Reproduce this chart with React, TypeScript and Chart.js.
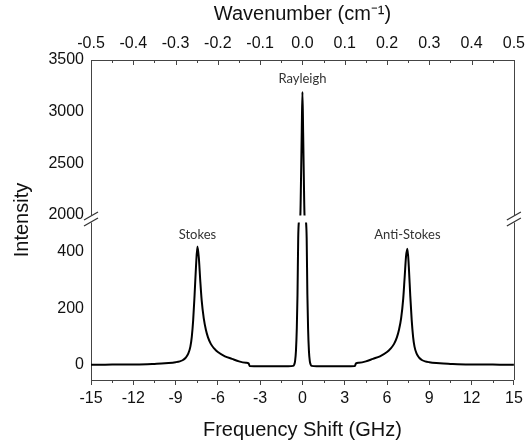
import React, { useEffect, useRef } from 'react';
import { Chart, registerables, LinearScale } from 'chart.js';

Chart.register(...registerables);

// ---- data ----
const FREQ_GHZ = [
  -15.0, -14.0, -13.0, -12.0, -11.0, -10.5, -10.0, -9.5, -9.0, -8.7, -8.5, -8.3, -8.1, -7.95, -7.85,
  -7.75, -7.65, -7.55, -7.45, -7.35, -7.25, -7.15, -7.0, -6.85, -6.7, -6.5, -6.25, -6.0, -5.5, -5.0,
  -4.5, -4.0, -3.82, -3.75, -3.0, -2.0, -1.0, -0.65, -0.58, -0.52, -0.46, -0.4, -0.35, -0.3, -0.25,
  -0.2, -0.15, -0.1, -0.05, 0.0,
  0.05, 0.1, 0.15, 0.2, 0.25, 0.3, 0.35, 0.4, 0.46, 0.52, 0.58, 0.65, 1.0, 2.0, 3.0, 3.72, 3.8,
  4.0, 4.5, 5.0, 5.5, 6.0, 6.25, 6.5, 6.7, 6.85, 7.0, 7.15, 7.25, 7.35, 7.45, 7.55, 7.65, 7.75,
  7.85, 7.95, 8.1, 8.3, 8.5, 8.7, 9.0, 9.5, 10.0, 10.5, 11.0, 12.0, 13.0, 14.0, 15.0,
];
const INTENSITY = [
  1, 1, 2, 2, 3, 4, 5, 7, 10, 13, 17, 25, 40, 65, 100,
  160, 250, 350, 420, 380, 300, 230, 165, 125, 98, 75, 58, 46, 31, 22,
  13, 8, 6, -3, -4, -4, -4, -3, 2, 15, 50, 130, 250, 450, 800,
  1300, 1850, 2350, 2800, 3190,
  2800, 2350, 1850, 1300, 800, 450, 250, 130, 50, 15, 2, -3, -4, -4, -4, -3, 6,
  8, 13, 22, 31, 46, 58, 75, 98, 125, 165, 235, 310, 385, 412, 345, 245, 160,
  100, 65, 40, 25, 17, 13, 10, 7, 5, 4, 3, 2, 2, 1, 1,
];

const Y_TICKS = [0, 200, 400, 2000, 2500, 3000, 3500];
const Y_LOWER_MIN = -53;
const Y_LOWER_MAX = 503;
const Y_UPPER_MIN = 2000;
const Y_UPPER_MAX = 3500;

const X_MIN = -15;
const X_MAX = 15;
const X_STEP = 3;
const WN_MIN = -0.5;
const WN_MAX = 0.5;
const WN_STEP = 0.1;

const PEAK_LABELS = ['Stokes', 'Rayleigh', 'Anti-Stokes'];
const PEAK_X = [-7.45, 0, 7.45];
const PEAK_LABEL_Y = [460, 3320, 460];

// ---- styling ----
const AXIS_COLOR = '#444';
const TEXT_COLOR = '#111';
const LOWER_FRAC = 157 / 320;
const GAP_FRAC = 8 / 320;

class BrokenLinearScale extends LinearScale {
  static id = 'brokenLinear';
  static defaults = LinearScale.defaults;

  buildTicks() {
    return Y_TICKS.map((v) => ({ value: v }));
  }

  getPixelForValue(value: number) {
    if (value === null || value === undefined || isNaN(value)) return NaN;
    const top = this.top;
    const bottom = this.bottom;
    const h = bottom - top;
    const lowerH = h * LOWER_FRAC;
    const gapH = h * GAP_FRAC;
    const upperH = h - lowerH - gapH;
    if (value <= Y_LOWER_MAX) {
      return bottom - ((value - Y_LOWER_MIN) / (Y_LOWER_MAX - Y_LOWER_MIN)) * lowerH;
    }
    if (value >= Y_UPPER_MIN) {
      return top + ((Y_UPPER_MAX - value) / (Y_UPPER_MAX - Y_UPPER_MIN)) * upperH;
    }
    return bottom - lowerH - ((value - Y_LOWER_MAX) / (Y_UPPER_MIN - Y_LOWER_MAX)) * gapH;
  }

  getValueForPixel(pixel: number) {
    const top = this.top;
    const bottom = this.bottom;
    const h = bottom - top;
    const lowerH = h * LOWER_FRAC;
    const gapH = h * GAP_FRAC;
    const upperH = h - lowerH - gapH;
    if (pixel >= bottom - lowerH) {
      return Y_LOWER_MIN + ((bottom - pixel) / lowerH) * (Y_LOWER_MAX - Y_LOWER_MIN);
    }
    if (pixel <= top + upperH) {
      return Y_UPPER_MAX - ((pixel - top) / upperH) * (Y_UPPER_MAX - Y_UPPER_MIN);
    }
    return Y_LOWER_MAX + ((bottom - lowerH - pixel) / gapH) * (Y_UPPER_MIN - Y_LOWER_MAX);
  }
}
Chart.register(BrokenLinearScale);

const decorPlugin = {
  id: 'decor',
  afterDraw(chart: any) {
    const { ctx, chartArea } = chart;
    const { left, right, top, bottom } = chartArea;
    const xs = chart.scales.x;
    const x2 = chart.scales.x2;
    const ys = chart.scales.y;
    ctx.save();
    ctx.strokeStyle = AXIS_COLOR;
    ctx.lineWidth = 1;

    // right frame line
    ctx.beginPath();
    ctx.moveTo(Math.round(right) + 0.5, top);
    ctx.lineTo(Math.round(right) + 0.5, bottom);
    ctx.stroke();

    // top axis inward ticks (major + minor)
    const nTop = Math.round((WN_MAX - WN_MIN) / (WN_STEP / 2));
    for (let i = 0; i <= nTop; i++) {
      const v = WN_MIN + (i * WN_STEP) / 2;
      const px = Math.round(x2.getPixelForValue(v)) + 0.5;
      const len = i % 2 === 0 ? 5 : 3;
      ctx.beginPath();
      ctx.moveTo(px, top);
      ctx.lineTo(px, top + len);
      ctx.stroke();
    }

    // bottom axis minor ticks
    for (let v = X_MIN + X_STEP / 2; v < X_MAX; v += X_STEP) {
      const px = Math.round(xs.getPixelForValue(v)) + 0.5;
      ctx.beginPath();
      ctx.moveTo(px, bottom);
      ctx.lineTo(px, bottom + 3);
      ctx.stroke();
    }

    // axis break gap
    const gTop = ys.getPixelForValue(Y_UPPER_MIN);
    const gBot = ys.getPixelForValue(Y_LOWER_MAX);
    ctx.fillStyle = '#fff';
    ctx.fillRect(left - 2, gTop + 0.5, right - left + 5, gBot - gTop - 1);

    // break slashes
    ctx.strokeStyle = '#333';
    ctx.lineWidth = 1.2;
    for (const ax of [left, right]) {
      for (const yy of [gTop + 1, gBot - 1]) {
        ctx.beginPath();
        ctx.moveTo(ax - 7, yy + 4);
        ctx.lineTo(ax + 7, yy - 4);
        ctx.stroke();
      }
    }

    // peak labels
    ctx.fillStyle = '#333';
    ctx.font = '13px Lato, "Open Sans", sans-serif';
    ctx.textAlign = 'center';
    ctx.textBaseline = 'middle';
    PEAK_LABELS.forEach((t, i) => {
      ctx.fillText(t, xs.getPixelForValue(PEAK_X[i]), ys.getPixelForValue(PEAK_LABEL_Y[i]));
    });
    ctx.restore();
  },
};

export default function App() {
  const ref = useRef<HTMLCanvasElement | null>(null);

  useEffect(() => {
    if (!ref.current) return;
    Chart.defaults.font.family = "'Liberation Sans', Arial, sans-serif";
    Chart.defaults.color = TEXT_COLOR;
    const points = FREQ_GHZ.map((f, i) => ({ x: f, y: INTENSITY[i] }));
    const chart = new Chart(ref.current, {
      type: 'line',
      data: {
        datasets: [
          {
            label: 'Spectrum',
            data: points,
            xAxisID: 'x',
            yAxisID: 'y',
            borderColor: '#000',
            borderWidth: 2,
            pointRadius: 0,
            fill: false,
            cubicInterpolationMode: 'monotone',
          },
        ],
      },
      options: {
        responsive: false,
        maintainAspectRatio: false,
        animation: false,
        devicePixelRatio: 1,
        layout: { padding: { left: 0, right: 13, top: 0, bottom: 0 } },
        plugins: { legend: { display: false }, tooltip: { enabled: false } },
        scales: {
          x: {
            type: 'linear',
            position: 'bottom',
            min: X_MIN,
            max: X_MAX,
            ticks: {
              stepSize: X_STEP,
              autoSkip: false,
              maxRotation: 0,
              padding: 4,
              font: { size: 16 },
              color: TEXT_COLOR,
              callback: (v: any) => String(v),
            },
            grid: { display: true, drawOnChartArea: false, drawTicks: true, tickLength: 5, color: AXIS_COLOR },
            border: { display: true, color: AXIS_COLOR, width: 1 },
            title: {
              display: true,
              text: 'Frequency Shift (GHz)',
              font: { size: 20 },
              color: TEXT_COLOR,
              padding: { top: 0, bottom: 6 },
            },
            afterFit: (s: any) => {
              s.height = 68;
            },
          },
          x2: {
            type: 'linear',
            position: 'top',
            min: WN_MIN,
            max: WN_MAX,
            ticks: {
              stepSize: WN_STEP,
              autoSkip: false,
              maxRotation: 0,
              padding: 7,
              font: { size: 16 },
              color: TEXT_COLOR,
              callback: (v: any) => (Math.abs(v) < 1e-9 ? '0.0' : Number(v).toFixed(1)),
            },
            grid: { display: false, drawTicks: false },
            border: { display: true, color: AXIS_COLOR, width: 1 },
            title: {
              display: true,
              text: 'Wavenumber (cm⁻¹)',
              font: { size: 20 },
              color: TEXT_COLOR,
              padding: { top: 2, bottom: 0 },
            },
            afterFit: (s: any) => {
              s.height = 60;
            },
          },
          y: {
            type: 'brokenLinear' as any,
            position: 'left',
            min: Y_LOWER_MIN,
            max: Y_UPPER_MAX,
            ticks: {
              autoSkip: false,
              padding: 7,
              font: { size: 16 },
              color: TEXT_COLOR,
              callback: (v: any) => String(v),
            },
            grid: { display: false, drawTicks: false },
            border: { display: true, color: AXIS_COLOR, width: 1 },
            title: {
              display: true,
              text: 'Intensity',
              font: { size: 20 },
              color: TEXT_COLOR,
              padding: { top: 10, bottom: 0 },
            },
            afterFit: (s: any) => {
              s.width = 91;
            },
          },
        },
      } as any,
      plugins: [decorPlugin],
    });
    return () => chart.destroy();
  }, []);

  return (
    <div style={{ position: 'fixed', left: 0, top: 0, width: 532, height: 448, background: '#fff' }}>
      <canvas ref={ref} width={532} height={448} style={{ display: 'block', width: 532, height: 448 }} />
    </div>
  );
}
